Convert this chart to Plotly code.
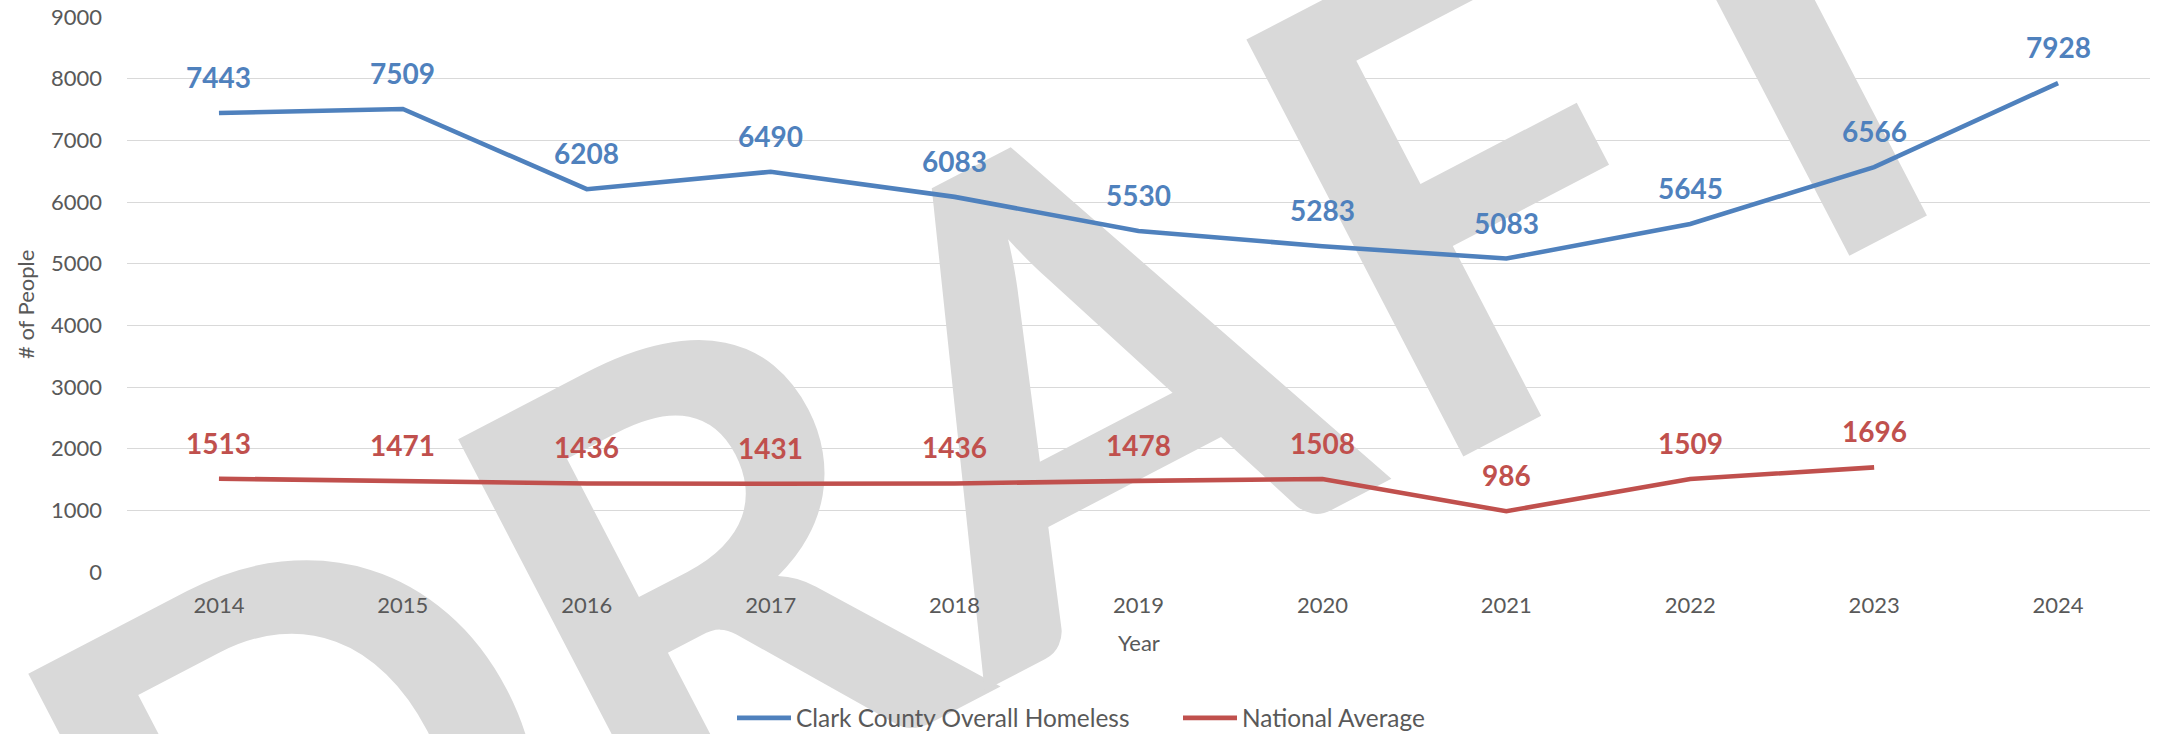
import plotly.graph_objects as go

# ---------------- data ----------------
years = ["2014", "2015", "2016", "2017", "2018", "2019", "2020", "2021", "2022", "2023", "2024"]
clark_county = [7443, 7509, 6208, 6490, 6083, 5530, 5283, 5083, 5645, 6566, 7928]
national_years = ["2014", "2015", "2016", "2017", "2018", "2019", "2020", "2021", "2022", "2023"]
national_average = [1513, 1471, 1436, 1431, 1436, 1478, 1508, 986, 1509, 1696]
y_tick_values = [0, 1000, 2000, 3000, 4000, 5000, 6000, 7000, 8000, 9000]
series_names = ["Clark County Overall Homeless", "National Average"]
watermark_letters = ["D", "R", "A", "F", "T"]

# ---------------- layout constants ----------------
W, H = 2157, 734
ML, MR, MT, MB = 127, 7, 17, 162
PW, PH = W - ML - MR, H - MT - MB
BLUE = "#4F81BD"
RED = "#C0504D"
GREY_TXT = "#595959"
GRID = "#D9D9D9"
FONT = "Lato"


def px(x):
    return (x - ML) / PW


def py(y):
    return (H - MB - y) / PH


fig = go.Figure()
fig.add_trace(go.Scatter(x=years, y=clark_county, mode="lines", name=series_names[0],
                         line=dict(color=BLUE, width=4.6), hoverinfo="x+y"))
fig.add_trace(go.Scatter(x=national_years, y=national_average, mode="lines", name=series_names[1],
                         line=dict(color=RED, width=4.6), hoverinfo="x+y"))

annotations = []
for i, v in enumerate(clark_county):
    annotations.append(dict(x=years.index(years[i]), y=v, xref="x", yref="y", text=str(v),
                            showarrow=False, yshift=36, yanchor="middle",
                            font=dict(family=FONT, size=28, color=BLUE, weight=700)))
for i, v in enumerate(national_average):
    annotations.append(dict(x=years.index(national_years[i]), y=v, xref="x", yref="y", text=str(v),
                            showarrow=False, yshift=36, yanchor="middle",
                            font=dict(family=FONT, size=28, color=RED, weight=700)))

# axis titles
annotations.append(dict(x=0.5, y=py(642), xref="paper", yref="paper", text="Year",
                        showarrow=False, xanchor="center", yanchor="middle",
                        font=dict(family=FONT, size=22, color=GREY_TXT)))
annotations.append(dict(x=px(25), y=py(305), xref="paper", yref="paper", text="# of People",
                        showarrow=False, textangle=-90, xanchor="center", yanchor="middle",
                        font=dict(family=FONT, size=22, color=GREY_TXT)))

# DRAFT watermark (drawn beneath the data)
wm_centers = [(298, 770), (694, 553), (1068, 354), (1460, 165), (1768, 5)]
shapes = []
for letter, (cx, cy) in zip(watermark_letters, wm_centers):
    shapes.append(dict(type="rect", xref="paper", yref="paper", layer="below",
                       x0=px(cx) - 0.0005, x1=px(cx) + 0.0005,
                       y0=py(cy) - 0.0005, y1=py(cy) + 0.0005,
                       line=dict(width=0), fillcolor="rgba(0,0,0,0)",
                       label=dict(text=letter, textangle=-27.5, textposition="middle center",
                                  xanchor="center", yanchor="middle",
                                  font=dict(family=FONT, size=650, color=GRID, weight=700))))

fig.update_layout(
    width=W, height=H,
    margin=dict(l=ML, r=MR, t=MT, b=MB, pad=0, autoexpand=False),
    paper_bgcolor="white", plot_bgcolor="rgba(0,0,0,0)",
    font=dict(family=FONT, color=GREY_TXT),
    showlegend=True,
    legend=dict(orientation="h", x=px(732), xanchor="left", y=py(718), yanchor="middle",
                font=dict(family=FONT, size=24.4, color=GREY_TXT), bgcolor="rgba(0,0,0,0)",
                itemwidth=54, entrywidth=377, entrywidthmode="pixels", tracegroupgap=0),
    annotations=annotations,
    shapes=shapes,
    xaxis=dict(type="category", range=[-0.5, 10.5], showgrid=False, showline=False, zeroline=False,
               ticks="", tickfont=dict(family=FONT, size=22, color=GREY_TXT),
               ticklabelstandoff=18, fixedrange=True, automargin=False),
    yaxis=dict(range=[0, 9000], tickvals=y_tick_values, showgrid=True, gridcolor=GRID, gridwidth=1.4,
               showline=False, zeroline=False, ticks="",
               tickfont=dict(family=FONT, size=22, color=GREY_TXT),
               ticklabelstandoff=24, fixedrange=True, automargin=False),
)

fig.write_html("out.html", config={"displayModeBar": False},
               post_script="document.body.style.margin='0';")
